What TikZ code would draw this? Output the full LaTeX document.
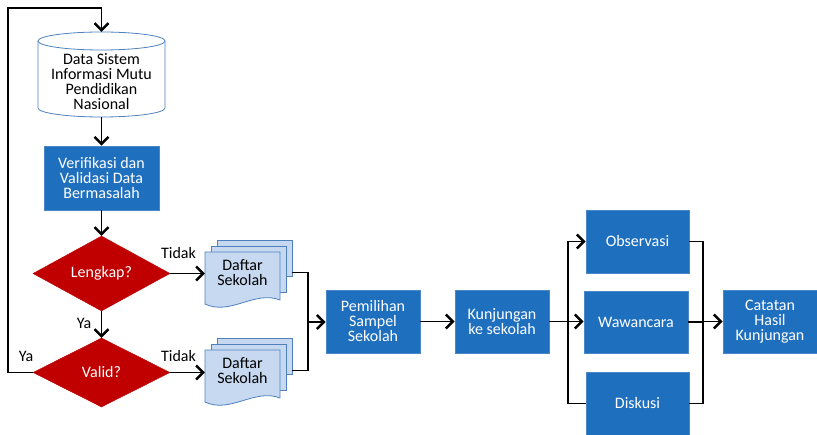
\documentclass[tikz,border=0pt]{standalone}
\usepackage{fontspec}
\setmainfont{Carlito}
\usetikzlibrary{shapes.geometric,arrows.meta,calc}
\definecolor{boxblue}{HTML}{1F6FBF}
\definecolor{boxedge}{HTML}{4A86C8}
\definecolor{dred}{HTML}{C00000}
\definecolor{docfill}{HTML}{C6D9F1}
\definecolor{docedge}{HTML}{4F81BD}
\newcommand\multidoc[2]{%
  \filldraw[docshape] (#1+12,#2-12) rectangle (#1+87,#2+24);
  \filldraw[docshape] (#1+6,#2-6) rectangle (#1+81,#2+40);
  \filldraw[docshape] (#1,#2) -- (#1+75,#2) -- (#1+75,#2+48)
     .. controls (#1+50,#2+38) and (#1+25,#2+64) .. (#1,#2+52) -- cycle;}
\begin{document}
\begin{tikzpicture}[x=1pt,y=-1pt,
  txt/.style={font=\fontsize{16}{15}\selectfont, align=center},
  bluebox/.style={txt, rectangle, fill=boxblue, draw=boxedge, line width=0.8pt, text=white, inner sep=0pt},
  decision/.style={txt, diamond, fill=dred, draw=dred, text=white, minimum width=137pt, minimum height=69pt, inner sep=0pt},
  conn/.style={line width=1.8pt, draw=black},
  arr/.style={conn, -{Straight Barb[length=7pt,width=14pt,line width=2.4pt]}},
  lbl/.style={txt, text=black, inner sep=0pt},
  docshape/.style={fill=docfill, draw=docedge, line width=0.8pt},
  cyl/.style={fill=white, draw=docedge, line width=0.8pt},
]
\useasboundingbox (0,0) rectangle (817,435);

% database cylinder
\filldraw[cyl] (38,41) -- (38,108) arc[start angle=180,end angle=360,x radius=63.5pt,y radius=9pt] -- (165,41) -- cycle;
\filldraw[cyl] (101.5,41) ellipse[x radius=63.5pt,y radius=9pt];
\node[minimum width=127pt, minimum height=85pt, inner sep=0pt] (db) at (101.5,74.5) {};
\node[lbl] (dbtext) at (101.5,82) {Data Sistem\\Informasi Mutu\\Pendidikan\\Nasional};

% boxes
\node[bluebox, minimum width=115pt, minimum height=64pt] (verif) at (101.5,178) {Verifikasi dan\\Validasi Data\\Bermasalah};
\node[decision] (lengkap) at (101.5,273.5) {Lengkap?};
\node[decision] (valid) at (101.5,372.5) {Valid?};

% document stacks
\multidoc{205}{252}
\multidoc{205}{350}
\node[lbl, minimum width=75pt] (doc1) at (242.5,272.5) {Daftar\\Sekolah};
\node[lbl, minimum width=75pt] (doc2) at (242.5,370.5) {Daftar\\Sekolah};
\coordinate (s1) at ($(doc1.east)+(12,0)$);
\coordinate (s2) at ($(doc2.east)+(12,0)$);

\node[bluebox, minimum width=94pt, minimum height=63pt] (pem) at (373,321.5) {Pemilihan\\Sampel\\Sekolah};
\node[bluebox, minimum width=94pt, minimum height=63pt] (kunj) at (502,321.5) {Kunjungan\\ke sekolah};
\node[bluebox, minimum width=103pt, minimum height=63pt] (obs) at (637.5,241.5) {Observasi};
\node[bluebox, minimum width=104pt, minimum height=62pt] (waw) at (636,322) {Wawancara};
\node[bluebox, minimum width=103pt, minimum height=63pt] (disk) at (637.5,403.5) {Diskusi};
\node[bluebox, minimum width=94pt, minimum height=63pt] (cat) at (770,321.5) {Catatan\\Hasil\\Kunjungan};

% helper coordinates
\coordinate (looptop) at (8,8);
\coordinate (j1) at (308,322);
\coordinate (b1) at (568,321.5);
\coordinate (m2) at (703,321.5);

% connectors
\draw[arr] (valid.west) -| (looptop) -| (db.north);
\draw[arr] (db.south) -- (verif.north);
\draw[arr] (verif.south) -- (lengkap.north);
\draw[arr] (lengkap.south) -- (valid.north);
\draw[arr] (lengkap.east) -- (lengkap.east -| doc1.west);
\draw[arr] (valid.east) -- (valid.east -| doc2.west);
\draw[conn] (s1) -| (j1) |- (s2);
\draw[arr] (j1) -- (j1 -| pem.west);
\draw[arr] (pem.east) -- (kunj.west);
\draw[arr] (kunj.east) -- (kunj.east -| waw.west);
\draw[arr] (disk.west) -| (b1) |- (obs.west);
\draw[conn] (obs.east) -| (m2) |- (disk.east);
\draw[conn] (waw.east) -- (waw.east -| m2);
\draw[arr] (m2) -- (cat.west);

% labels
\node[lbl] (tidak1) at (178.5,253) {Tidak};
\node[lbl] (tidak2) at (178.5,356) {Tidak};
\node[lbl] (ya1) at (84,323) {Ya};
\node[lbl] (ya2) at (26,356) {Ya};
\end{tikzpicture}
\end{document}
